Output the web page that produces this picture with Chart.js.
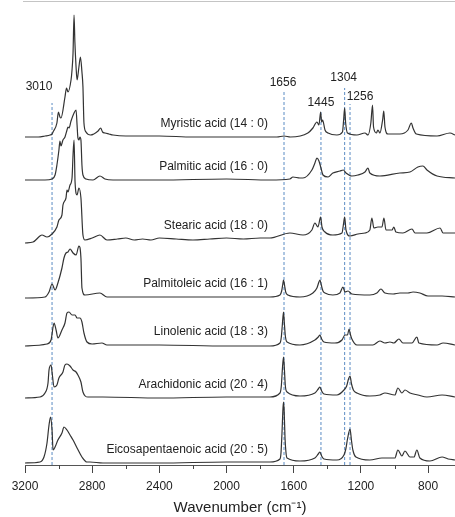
<!DOCTYPE html>
<html>
<head>
<meta charset="utf-8">
<script src="https://cdn.jsdelivr.net/npm/chart.js@4.4.1/dist/chart.umd.min.js"></script>
<style>
  html, body { margin: 0; padding: 0; background: #fff; }
  canvas { display: block; }
</style>
</head>
<body>
<canvas id="raman" width="455" height="517"></canvas>
<script>
// Raman spectra of fatty acids, stacked with a vertical offset per trace.
const majorTicks = [3200, 2800, 2400, 2000, 1600, 1200, 800];
const minorTicks = [3000, 2600, 2200, 1800, 1400, 1000];

const acidNames = [
    'Myristic acid (14 : 0)',
    'Palmitic acid (16 : 0)',
    'Stearic acid (18 : 0)',
    'Palmitoleic acid (16 : 1)',
    'Linolenic acid (18 : 3)',
    'Arachidonic acid (20 : 4)',
    'Eicosapentaenoic acid (20 : 5)',
];
const offsets = [328, 285, 226, 168, 120, 67, 2];

// marker lines: where they sit, what they say, how high they reach
const peakPositions = [3039, 1658, 1438, 1297, 1265];
const peakLabels    = ['3010', '1656', '1445', '1304', '1256'];
const peakTops      = [362, 373, 353, 377, 361];

// [wavenumber, intensity above the trace's own baseline]
const myristic = [
    [3200,0],[3120,0],[3081,1],[3051,2],[3039,3],[3033,5],[3010,14],[3001,25],[2992,20],[2986,19],
    [2962,40],[2953,49],[2944,45],[2926,57],[2920,67],[2914,84],[2908,122],[2903,95],[2896,70],[2890,57],
    [2879,70],[2870,80],[2861,65],[2855,50],[2849,14],[2837,5],[2810,2],[2765,6],[2750,9],[2738,5],
    [2724,4],[2700,3],[2676,2],[2600,1],[2400,1],[2200,0],[2000,0],[1800,0],[1700,0],[1658,1],
    [1620,0],[1516,4],[1486,9],[1462,15],[1450,12],[1440,25],[1434,15],[1428,17],[1414,7],[1396,4],
    [1343,2],[1310,5],[1303,17],[1297,29],[1291,14],[1280,4],[1224,2],[1176,4],[1158,2],[1141,14],
    [1131,32],[1125,10],[1108,4],[1099,7],[1087,4],[1071,17],[1064,26],[1057,10],[1039,3],[968,3],
    [920,7],[900,14],[890,9],[870,3],[747,1],[670,4],[640,2],
];
const palmitic = [
    [3200,0],[3081,0],[3039,1],[3021,5],[3010,15],[2998,30],[2992,39],[2986,34],[2974,40],[2962,43],
    [2950,50],[2944,53],[2938,52],[2926,59],[2908,67],[2896,70],[2890,55],[2885,42],[2879,40],[2873,43],
    [2867,40],[2861,15],[2855,5],[2837,1],[2795,0],[2754,4],[2724,1],[2676,0],[2400,0],[2000,1],
    [1742,0],[1623,1],[1605,3],[1563,2],[1545,2],[1492,10],[1474,17],[1462,22],[1450,19],[1438,12],
    [1426,5],[1396,3],[1367,7],[1325,9],[1305,10],[1289,7],[1254,4],[1218,5],[1176,8],[1158,12],
    [1147,7],[1087,4],[968,7],[908,8],[861,13],[831,14],[807,10],[747,4],[640,2],
];
const stearic = [
    [3200,-4],[3152,-3],[3111,3],[3099,4],[3069,2],[3039,5],[3010,12],[2998,19],[2980,24],[2974,34],
    [2956,41],[2950,49],[2944,47],[2932,54],[2920,61],[2914,84],[2908,99],[2902,57],[2890,44],[2879,51],
    [2867,41],[2855,4],[2843,-1],[2800,1],[2754,4],[2712,-1],[2650,0],[2600,1],[2550,-1],[2500,0],
    [2450,-1],[2400,1],[2300,0],[2200,-1],[2100,0],[2000,1],[1900,0],[1800,1],[1742,1],[1623,6],
    [1545,4],[1492,9],[1474,16],[1456,12],[1440,22],[1432,12],[1414,7],[1367,4],[1313,6],[1303,16],
    [1297,22],[1289,9],[1265,3],[1218,5],[1176,6],[1147,9],[1135,21],[1123,11],[1099,12],[1075,12],
    [1063,21],[1051,9],[1015,9],[1004,12],[992,7],[950,6],[896,10],[878,6],[807,6],[729,11],
    [711,6],[640,6],
];
const palmitoleic = [
    [3200,-1],[3081,0],[3057,5],[3039,13],[3021,7],[3004,14],[2980,29],[2968,39],[2956,44],[2944,45],
    [2932,48],[2914,44],[2896,42],[2879,51],[2867,39],[2861,9],[2843,2],[2754,4],[2712,0],[2400,0],
    [2000,0],[1742,0],[1682,2],[1672,6],[1666,12],[1661,17],[1655,12],[1648,5],[1635,2],[1563,0],
    [1486,4],[1462,9],[1450,15],[1444,17],[1436,12],[1426,6],[1414,4],[1367,2],[1325,4],[1307,10],
    [1295,5],[1277,6],[1254,3],[1147,2],[1105,4],[1081,8],[1057,4],[1009,3],[968,4],[920,4],
    [890,5],[849,4],[801,1],[717,1],[640,0],
];
const linolenic = [
    [3200,-1],[3069,1],[3045,5],[3033,18],[3027,22],[3015,15],[3004,7],[2980,15],[2962,22],[2950,32],
    [2938,33],[2920,30],[2902,30],[2890,27],[2873,27],[2861,23],[2849,12],[2831,3],[2801,1],[2742,2],
    [2712,0],[2400,0],[2000,-1],[1742,-1],[1682,2],[1674,8],[1668,20],[1661,33],[1656,22],[1650,9],
    [1640,3],[1563,0],[1474,5],[1454,8],[1444,10],[1434,6],[1420,3],[1355,2],[1313,5],[1295,10],
    [1280,10],[1271,16],[1262,10],[1254,6],[1224,0],[1129,0],[1087,4],[1057,2],[1027,3],[1004,2],
    [974,6],[950,2],[896,2],[867,8],[855,2],[747,0],[711,2],[640,0],
];
const arachidonic = [
    [3200,0],[3111,1],[3081,5],[3063,15],[3057,28],[3045,33],[3039,26],[3027,11],[3010,13],[2998,20],
    [2974,26],[2962,33],[2950,34],[2932,32],[2914,28],[2896,26],[2885,23],[2867,16],[2855,6],[2825,1],
    [2736,1],[2400,0],[2000,1],[1742,1],[1682,5],[1674,12],[1668,28],[1661,41],[1656,30],[1650,12],
    [1640,6],[1563,2],[1474,5],[1454,9],[1444,11],[1434,7],[1420,4],[1343,3],[1301,8],[1285,12],
    [1274,19],[1265,22],[1256,14],[1245,8],[1224,5],[1147,2],[1087,3],[1057,5],[998,3],[980,10],
    [956,5],[938,8],[908,5],[861,3],[807,1],[717,3],[640,1],
];
const epa = [
    [3200,0],[3111,1],[3087,6],[3069,20],[3057,38],[3048,46],[3039,33],[3033,13],[3021,16],[3004,23],
    [2980,30],[2968,36],[2950,33],[2932,28],[2914,23],[2890,15],[2861,6],[2831,1],[2813,1],[2736,0],
    [2400,0],[2000,1],[1742,1],[1682,4],[1676,10],[1670,30],[1664,55],[1661,61],[1657,52],[1652,25],
    [1646,10],[1640,5],[1563,2],[1474,5],[1454,9],[1444,11],[1434,7],[1420,4],[1343,3],[1301,8],
    [1290,14],[1280,24],[1265,34],[1256,22],[1248,13],[1230,6],[1147,3],[1075,5],[1039,5],[998,5],
    [980,13],[956,7],[938,12],[908,6],[884,6],[867,13],[849,5],[789,2],[717,6],[681,4],
    [640,3],
];
const spectra = [myristic, palmitic, stearic, palmitoleic, linolenic, arachidonic, epa];

// layout bits (pixels / axis units), not data
const NAME_RIGHT_WN = 1754;   // right edge of the acid names
const NAME_LIFT     = 13;     // names sit this far above their baseline
const PEAK_LABEL_SHIFT = [[-13, -16], [-1, -9], [0, -9], [-1, -10], [10, -7]];
const FONT = '"Liberation Sans", Arial, sans-serif';

const spectrumSets = spectra.map((s, i) => ({
    label: acidNames[i],
    data: s.map(([x, v]) => ({ x, y: v + offsets[i] })),
    borderColor: '#333333',
    borderWidth: 1.2,
    pointRadius: 0,
    cubicInterpolationMode: 'monotone',
}));

const markerSets = peakPositions.map((p, i) => ({
    label: peakLabels[i],
    data: [{ x: p, y: 0 }, { x: p, y: peakTops[i] }],
    borderColor: '#5b8cc4',
    borderWidth: 1,
    borderDash: [3, 2],
    pointRadius: 0,
}));

const textPlugin = {
    id: 'texts',
    afterDatasetsDraw(chart) {
        const { ctx, chartArea, scales: { x, y } } = chart;
        ctx.save();

        // thin grey frame line along the top
        ctx.strokeStyle = '#c4c4c4';
        ctx.lineWidth = 1;
        ctx.beginPath();
        ctx.moveTo(chartArea.left - 2, chartArea.top - 0.5);
        ctx.lineTo(chartArea.right, chartArea.top - 0.5);
        ctx.stroke();

        // minor ticks under the axis
        ctx.strokeStyle = '#444';
        minorTicks.forEach(v => {
            const px = Math.round(x.getPixelForValue(v)) + 0.5;
            ctx.beginPath();
            ctx.moveTo(px, chartArea.bottom);
            ctx.lineTo(px, chartArea.bottom + 4);
            ctx.stroke();
        });

        ctx.fillStyle = '#222';
        ctx.font = '12px ' + FONT;
        ctx.textBaseline = 'middle';

        ctx.textAlign = 'right';
        acidNames.forEach((name, i) => {
            ctx.fillText(name, x.getPixelForValue(NAME_RIGHT_WN), y.getPixelForValue(offsets[i] + NAME_LIFT));
        });

        ctx.textAlign = 'center';
        peakLabels.forEach((lab, i) => {
            const [dx, dy] = PEAK_LABEL_SHIFT[i];
            ctx.fillText(lab, x.getPixelForValue(peakPositions[i]) + dx, y.getPixelForValue(peakTops[i]) + dy);
        });
        ctx.restore();
    },
};

new Chart(document.getElementById('raman'), {
    type: 'line',
    data: { datasets: [...spectrumSets, ...markerSets] },
    plugins: [textPlugin],
    options: {
        responsive: false,
        animation: false,
        layout: { padding: { top: 2, left: 25, right: 0, bottom: 0 } },
        plugins: { legend: { display: false }, tooltip: { enabled: false } },
        scales: {
            x: {
                type: 'linear',
                reverse: true,
                min: 640,
                max: 3200,
                afterBuildTicks: s => { s.ticks = majorTicks.map(v => ({ value: v })); },
                afterFit: s => { s.height = 52; },
                border: { display: true, color: '#555', width: 1 },
                grid: { drawOnChartArea: false, tickLength: 8, color: '#444' },
                ticks: {
                    color: '#222',
                    padding: 6,
                    maxRotation: 0,
                    autoSkip: false,
                    font: { family: FONT, size: 12 },
                    callback: v => String(v),
                },
                title: {
                    display: true,
                    text: 'Wavenumber (cm\u207B\u00B9)',
                    color: '#222',
                    padding: { top: 2, bottom: 0 },
                    font: { family: FONT, size: 15 },
                },
            },
            y: { display: false, min: 0, max: 463 },
        },
    },
});
</script>
</body>
</html>
